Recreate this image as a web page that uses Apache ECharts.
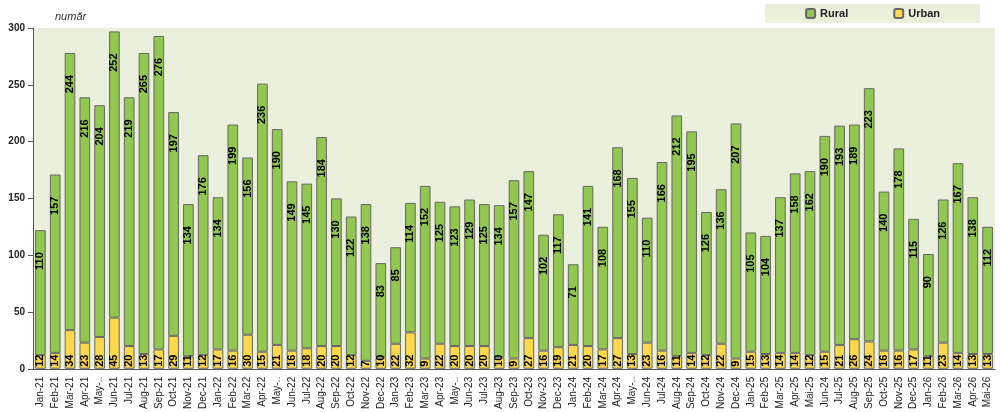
<!DOCTYPE html>
<html>
<head>
<meta charset="utf-8">
<script src="https://cdn.jsdelivr.net/npm/echarts@6/dist/echarts.min.js"></script>
<style>html,body{margin:0;padding:0;background:#fff}#c{width:1000px;height:412px}</style>
</head>
<body>
<div id="c"></div>
<script>
// luni
var categories = ['Jan-21','Feb-21','Mar-21','Apr-21','May-21','Jun-21','Jul-21','Aug-21','Sep-21','Oct-21','Nov-21','Dec-21',
  'Jan-22','Feb-22','Mar-22','Apr-22','May-22','Jun-22','Jul-22','Aug-22','Sep-22','Oct-22','Nov-22','Dec-22',
  'Jan-23','Feb-23','Mar-23','Apr-23','May-23','Jun-23','Jul-23','Aug-23','Sep-23','Oct-23','Nov-23','Dec-23',
  'Jan-24','Feb-24','Mar-24','Apr-24','May-24','Jun-24','Jul-24','Aug-24','Sep-24','Oct-24','Nov-24','Dec-24',
  'Jan-25','Feb-25','Mar-25','Apr-25','Mai-25','Jun-24','Jul-25','Aug-25','Sep-25','Oct-25','Nov-25','Dec-25',
  'Jan-26','Feb-26','Mar-26','Apr-26','Mai-26'];
var urban = [12,14,34,23,28,45,20,13,17,29,11,12, 17,16,30,15,21,16,18,20,20,12,7,10,
  22,32,9,22,20,20,20,10,9,27,16,19, 21,20,17,27,13,23,16,11,14,12,22,9,
  15,13,14,14,12,15,21,26,24,16,16,17, 11,23,14,13,13];
var rural = [110,157,244,216,204,252,219,265,276,197,134,176, 134,199,156,236,190,149,145,184,130,122,138,83,
  85,114,152,125,123,129,125,134,157,147,102,117, 71,141,108,168,155,110,166,212,195,126,136,207,
  105,104,137,158,162,190,193,189,223,140,178,115, 90,126,167,138,112];

var chart = echarts.init(document.getElementById('c'));
var lbl = {show:true, rotate:90, color:'#000', fontWeight:'bold', fontSize:11, fontFamily:'Liberation Sans'};
chart.setOption({
  textStyle:{fontFamily:'Liberation Sans'},
  grid:{left:33, right:5, top:28, bottom:40, show:true, backgroundColor:'#ebf0dc', borderWidth:0},
  title:{text:'număr', left:50, top:6, textStyle:{fontSize:11, fontStyle:'italic', fontWeight:'normal', color:'#333'}},
  legend:{right:20, top:4, itemWidth:9, itemHeight:9, itemGap:45, backgroundColor:'#ebf0dc', padding:[4,40,4,40],
    textStyle:{fontWeight:'bold', fontSize:11, color:'#222'}, data:['Rural','Urban']},
  xAxis:{type:'category', data:categories,
    axisLine:{lineStyle:{color:'#555'}}, axisTick:{lineStyle:{color:'#555'}},
    axisLabel:{rotate:90, interval:0, fontSize:10, color:'#222',
      formatter:function(v){return v.indexOf('May')===0 ? 'May-..' : v;}}},
  yAxis:{type:'value', min:0, max:300, interval:50, splitLine:{show:false},
    axisLine:{show:true, lineStyle:{color:'#555'}}, axisTick:{show:true},
    axisLabel:{fontWeight:'bold', fontSize:10, color:'#222'}},
  series:[
    {name:'Urban', type:'bar', stack:'t', data:urban, barWidth:'72%',
      itemStyle:{color:'#fdd84a', borderColor:'#666', borderWidth:1},
      label:Object.assign({position:'insideBottom', align:'left', verticalAlign:'middle', distance:2}, lbl)},
    {name:'Rural', type:'bar', stack:'t', data:rural,
      itemStyle:{color:'#92c850', borderColor:'#666', borderWidth:1},
      label:Object.assign({position:'insideTop', align:'right', verticalAlign:'middle', distance:22}, lbl)}
  ]
});
</script>
</body>
</html>
